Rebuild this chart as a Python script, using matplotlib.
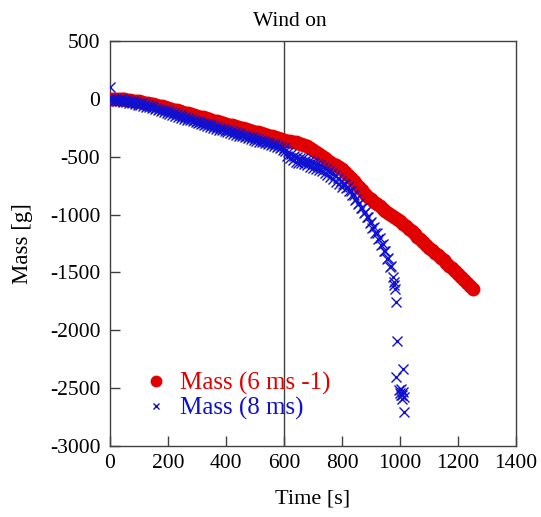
import numpy as np
import matplotlib.pyplot as plt

plt.rcParams['font.family'] = ['Liberation Serif', 'DejaVu Serif']
plt.rcParams['axes.unicode_minus'] = False

# Mass (6 ms -1): time [s], mass [g]
red_t = [0, 10, 20, 30, 40, 50, 60, 70, 80, 90, 100,
         110, 120, 130, 140, 150, 160, 170, 180, 190, 200,
         210, 220, 230, 240, 250, 260, 270, 280, 290, 300,
         310, 320, 330, 340, 350, 360, 370, 380, 390, 400,
         410, 420, 430, 440, 450, 460, 470, 480, 490, 500,
         510, 520, 530, 540, 550, 560, 570, 580, 590, 600,
         610, 620, 630, 640, 650, 660, 670, 680, 690, 700,
         710, 720, 730, 740, 750, 760, 770, 780, 790, 800,
         810, 820, 830, 840, 850, 860, 870, 880, 890, 900,
         910, 920, 930, 940, 950, 960, 970, 980, 990, 1000,
         1010, 1020, 1030, 1040, 1050, 1060, 1070, 1080, 1090, 1100,
         1110, 1120, 1130, 1140, 1150, 1160, 1170, 1180, 1190, 1200,
         1210, 1220, 1230, 1240, 1250]
red_m = [0, 2, 0, -2, -3, -5, -8, -11, -15, -18, -22,
         -27, -32, -37, -42, -48, -54, -60, -66, -72, -79,
         -85, -92, -99, -105, -112, -119, -126, -133, -140, -147,
         -153, -160, -167, -174, -181, -188, -194, -201, -208, -215,
         -222, -229, -235, -242, -249, -256, -262, -269, -276, -283,
         -290, -297, -304, -311, -318, -325, -332, -340, -347, -355,
         -362, -368, -372, -376, -380, -386, -395, -408, -425, -442,
         -460, -478, -495, -512, -528, -545, -560, -574, -588, -605,
         -628, -655, -685, -712, -738, -762, -790, -818, -845, -868,
         -888, -905, -925, -948, -968, -988, -1005, -1022, -1040, -1058,
         -1080, -1102, -1124, -1146, -1168, -1190, -1213, -1237, -1261, -1285,
         -1306, -1328, -1350, -1372, -1395, -1418, -1441, -1465, -1490, -1515,
         -1540, -1565, -1590, -1615, -1640]

# Mass (8 ms): time [s], mass [g]
blue_t = [0, 0, 5, 10, 15, 20, 25, 30, 35, 40, 45, 50, 55, 60, 65, 70, 75, 80, 85, 90, 95,
          100, 105, 110, 115, 120, 125, 130, 135, 140, 145, 150, 155, 160, 165, 170, 175,
          180, 185, 190, 195, 200, 205, 210, 215, 220, 225, 230, 235, 240, 245, 250, 255,
          260, 265, 270, 275, 280, 285, 290, 295, 300, 305, 310, 315, 320, 325, 330, 335,
          340, 345, 350, 355, 360, 365, 370, 375, 380, 385, 390, 395, 400, 405, 410, 415,
          420, 425, 430, 435, 440, 445, 450, 455, 460, 465, 470, 475, 480, 485, 490, 495,
          500, 505, 510, 515, 520, 525, 530, 535, 540, 545, 550, 555, 560, 565, 570, 575,
          580, 585, 590, 595, 600,
          605, 610, 615, 620, 625, 630, 635, 640, 645, 650,
          655, 660, 665, 670, 675, 680, 685, 690, 695, 700,
          705, 710, 715, 720, 725, 730, 735, 740, 745, 750,
          755, 760, 765, 770, 775, 780, 785, 790, 795, 800,
          805, 810, 815, 820, 825, 830, 835, 840, 845, 850,
          855, 860, 865, 870, 875, 880, 885, 890, 895, 900,
          905, 910, 915, 920, 925, 930, 935, 940, 945, 950,
          955, 960, 965, 970, 975, 978, 980, 982,
          985, 988, 1011, 986, 995, 1000, 1003, 1006, 1010, 1013,
          1008, 1002, 1015]
blue_m = [100, 0, -13, 3, -16, 1, -18, -2, -21, -5, -24, -8, -28, -12, -32, -17, -37, -22, -43, -28, -49,
          -34, -55, -40, -62, -47, -68, -53, -74, -60, -82, -68, -90, -76, -98, -84, -106,
          -92, -114, -100, -122, -108, -130, -117, -139, -125, -147, -133, -155, -141, -163, -149, -171,
          -157, -179, -165, -187, -173, -195, -181, -204, -191, -212, -198, -220, -206, -227, -213, -235,
          -221, -242, -228, -250, -236, -257, -243, -265, -251, -272, -258, -280, -266, -287, -273, -295,
          -281, -302, -288, -310, -296, -317, -303, -325, -311, -332, -318, -340, -326, -347, -333, -355,
          -341, -362, -348, -369, -355, -377, -363, -384, -370, -392, -378, -400, -386, -408, -394, -417,
          -404, -427, -414, -438, -426,
          -448, -490, -462, -515, -478, -530, -490, -545, -500, -550,
          -508, -556, -515, -565, -525, -575, -535, -585, -545, -595,
          -555, -602, -565, -612, -575, -625, -590, -640, -605, -655,
          -620, -672, -640, -692, -660, -715, -685, -740, -712, -765,
          -740, -735, -770, -765, -800, -795, -835, -830, -870, -865,
          -905, -900, -945, -940, -985, -978, -1025, -1020, -1070, -1062,
          -1112, -1108, -1160, -1155, -1210, -1205, -1262, -1258, -1318, -1312,
          -1380, -1375, -1450, -1445, -1540, -1580, -1610, -1640,
          -1755, -2095, -2335, -2400, -2520, -2545, -2510, -2560, -2530, -2575,
          -2590, -2555, -2710]

red_c = '#e00000'
blue_c = '#1010d0'
edge = '#404040'

fig = plt.figure(figsize=(5.41, 5.17), dpi=100)
ax = fig.add_axes([0.2033, 0.1373, 0.7505, 0.7834])

ax.plot(red_t, red_m, 'o', color=red_c, markersize=10, markeredgewidth=0,
        label='Mass (6 ms -1)', zorder=3)
ax.plot(blue_t, blue_m, 'x', color=blue_c, markersize=7, markeredgewidth=1.0,
        label='Mass (8 ms)', zorder=4)

ax.axvline(600, color=edge, lw=1.0, zorder=2)

ax.set_xlim(0, 1400)
ax.set_ylim(-3000, 500)
ax.set_xticks([0, 200, 400, 600, 800, 1000, 1200, 1400])
ax.set_yticks([500, 0, -500, -1000, -1500, -2000, -2500, -3000])

for s in ax.spines.values():
    s.set_color(edge)
    s.set_linewidth(1.0)
ax.tick_params(axis='both', direction='in', length=7, width=1, color=edge,
               labelsize=15.5, top=False, right=False)
ax.tick_params(axis='y', pad=7)
ax.tick_params(axis='x', pad=6)

ax.set_xlabel('Time [s]', fontsize=16)
ax.set_ylabel('Mass [g]', fontsize=16.5)
ax.xaxis.set_label_coords(0.5, -0.108)
ax.yaxis.set_label_coords(-0.19, 0.5)

ax.text(0.443, 1.025, 'Wind on', transform=ax.transAxes, ha='center',
        va='bottom', fontsize=15.5)

leg = ax.legend(loc='upper left', bbox_to_anchor=(0.0825, 0.182), frameon=False,
                fontsize=18, handlelength=1.0, handletextpad=0.46,
                labelspacing=0.05, borderpad=0, borderaxespad=0,
                labelcolor=[red_c, blue_c])
leg.legend_handles[0].set_markersize(8.5)
leg.legend_handles[1].set_markersize(5)

fig.savefig('out.png', dpi=100)
